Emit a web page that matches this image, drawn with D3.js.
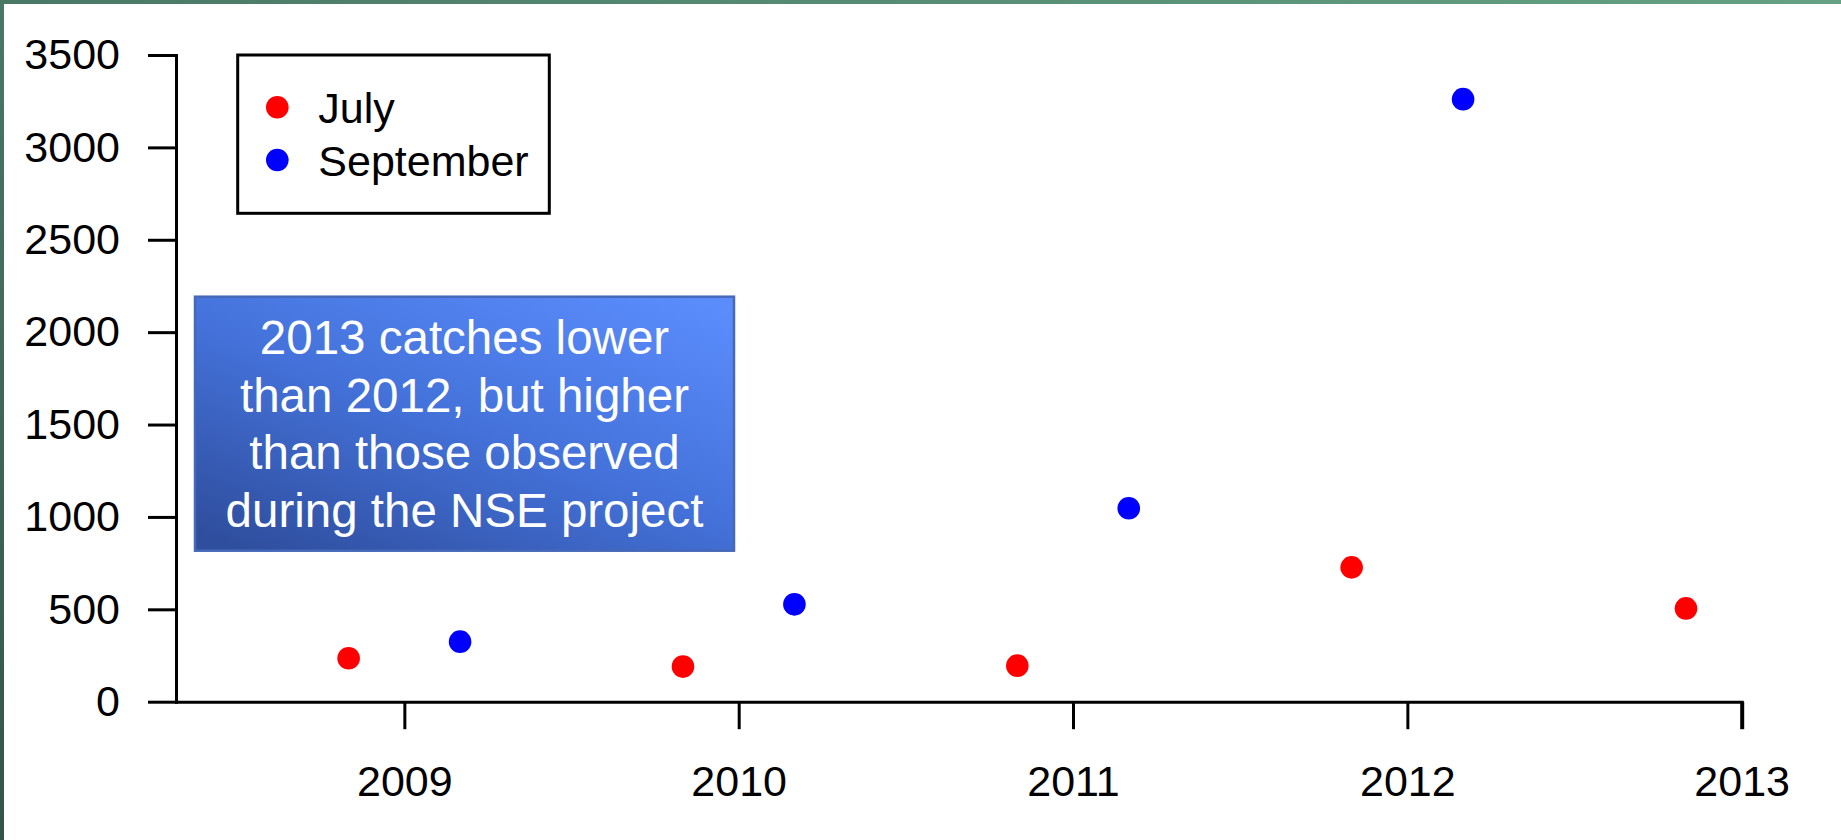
<!DOCTYPE html>
<html>
<head>
<meta charset="utf-8">
<script src="https://cdn.jsdelivr.net/npm/d3@7"></script>
<style>
  html, body { margin: 0; padding: 0; background: #ffffff; }
  svg { display: block; }
  text { font-family: "Liberation Sans", Arial, sans-serif; }
</style>
</head>
<body>
<script>
// ---- Data ----
const years = [2009, 2010, 2011, 2012, 2013];
const julyYears = [2009, 2010, 2011, 2012, 2013];
const julyValues = [235, 190, 195, 727, 505];
const septemberYears = [2009, 2010, 2011, 2012];
const septemberValues = [325, 527, 1047, 3261];
const yTickValues = [0, 500, 1000, 1500, 2000, 2500, 3000, 3500];
const xTickLabels = ["2009", "2010", "2011", "2012", "2013"];
const seriesNames = ["July", "September"];
const seriesColors = ["#ff0000", "#0000ff"];
const noteLines = ["2013 catches lower", "than 2012, but higher", "than those observed", "during the NSE project"];

// ---- Layout ----
const W = 1841, H = 840;
const monthOffset = { July: -1 / 6, September: 1 / 6 };

const svg = d3.select("body").append("svg").attr("width", W).attr("height", H);
const defs = svg.append("defs");

// frame gradient
const fg = defs.append("linearGradient").attr("id", "frameTop").attr("x1", 0).attr("x2", 1).attr("y1", 0).attr("y2", 0);
fg.append("stop").attr("offset", 0).attr("stop-color", "#4a7866");
fg.append("stop").attr("offset", 1).attr("stop-color", "#64a283");
const fl = defs.append("linearGradient").attr("id", "frameLeft").attr("x1", 0).attr("x2", 0).attr("y1", 0).attr("y2", 1);
fl.append("stop").attr("offset", 0).attr("stop-color", "#4a7866");
fl.append("stop").attr("offset", 1).attr("stop-color", "#34544a");

svg.append("rect").attr("x", 0).attr("y", 0).attr("width", W).attr("height", H).attr("fill", "#ffffff");
svg.append("rect").attr("x", 0).attr("y", 0).attr("width", W).attr("height", 4).attr("fill", "url(#frameTop)");
svg.append("rect").attr("x", 0).attr("y", 0).attr("width", 4).attr("height", H).attr("fill", "url(#frameLeft)");

// scales
const x = d3.scaleLinear().domain([2008.317, 2013]).range([176, 1741.7]);
const y = d3.scaleLinear().domain([0, 3500]).range([701.7, 55]);

// y axis
const yAxis = svg.append("g").attr("transform", `translate(${x.range()[0]},0)`)
  .call(d3.axisLeft(y).tickValues(yTickValues).tickFormat(d3.format("d"))
    .tickSizeInner(28).tickSizeOuter(0).tickPadding(28));
// x axis
const xAxis = svg.append("g").attr("transform", `translate(0,${y.range()[0]})`)
  .call(d3.axisBottom(x).tickValues(years).tickFormat((d, i) => xTickLabels[i])
    .tickSizeInner(27.5).tickSizeOuter(0).tickPadding(36));

[yAxis, xAxis].forEach(g => {
  g.select(".domain").attr("stroke", "#000").attr("stroke-width", 3).attr("stroke-linecap", "square");
  g.selectAll(".tick line").attr("stroke", "#000").attr("stroke-width", 3);
  g.selectAll(".tick text").attr("fill", "#000").style("font-size", "43px")
    .style("font-family", "'Liberation Sans', Arial, sans-serif");
});
xAxis.selectAll(".tick line").filter(d => d === 2013).attr("stroke-width", 4);

// points
const julyData = julyYears.map((yr, i) => ({ series: "July", year: yr, value: julyValues[i] }));
const sepData = septemberYears.map((yr, i) => ({ series: "September", year: yr, value: septemberValues[i] }));
const color = d3.scaleOrdinal().domain(seriesNames).range(seriesColors);

svg.append("g").selectAll("circle")
  .data(julyData.concat(sepData))
  .join("circle")
  .attr("cx", d => x(d.year + monthOffset[d.series]))
  .attr("cy", d => y(d.value))
  .attr("r", 11.3)
  .attr("fill", d => color(d.series));

// legend
const lg = svg.append("g");
lg.append("rect").attr("x", 237.7).attr("y", 55).attr("width", 311.6).attr("height", 158.3)
  .attr("fill", "#fff").attr("stroke", "#000").attr("stroke-width", 3);
seriesNames.forEach((name, i) => {
  const cy = 107.3 + i * 52.7;
  lg.append("circle").attr("cx", 277.3).attr("cy", cy).attr("r", 11.3).attr("fill", color(name));
  lg.append("text").attr("x", 318.3).attr("y", cy + 15.6).attr("fill", "#000")
    .style("font-size", "43px").text(name);
});

// annotation box
const bg = defs.append("linearGradient").attr("id", "noteGrad")
  .attr("x1", 0.1).attr("y1", 1).attr("x2", 0.9).attr("y2", 0);
bg.append("stop").attr("offset", 0).attr("stop-color", "#2f4e9e");
bg.append("stop").attr("offset", 0.5).attr("stop-color", "#4472da");
bg.append("stop").attr("offset", 1).attr("stop-color", "#5a8cfc");

const note = svg.append("g");
note.append("rect").attr("x", 195).attr("y", 296.7).attr("width", 539).attr("height", 254)
  .attr("fill", "url(#noteGrad)").attr("stroke", "#4668b8").attr("stroke-width", 2.5);
noteLines.forEach((line, i) => {
  note.append("text").attr("x", 464.5).attr("y", 354 + i * 57.6)
    .attr("text-anchor", "middle").attr("fill", "#ffffff")
    .style("font-size", "47.5px").text(line);
});
</script>
</body>
</html>
